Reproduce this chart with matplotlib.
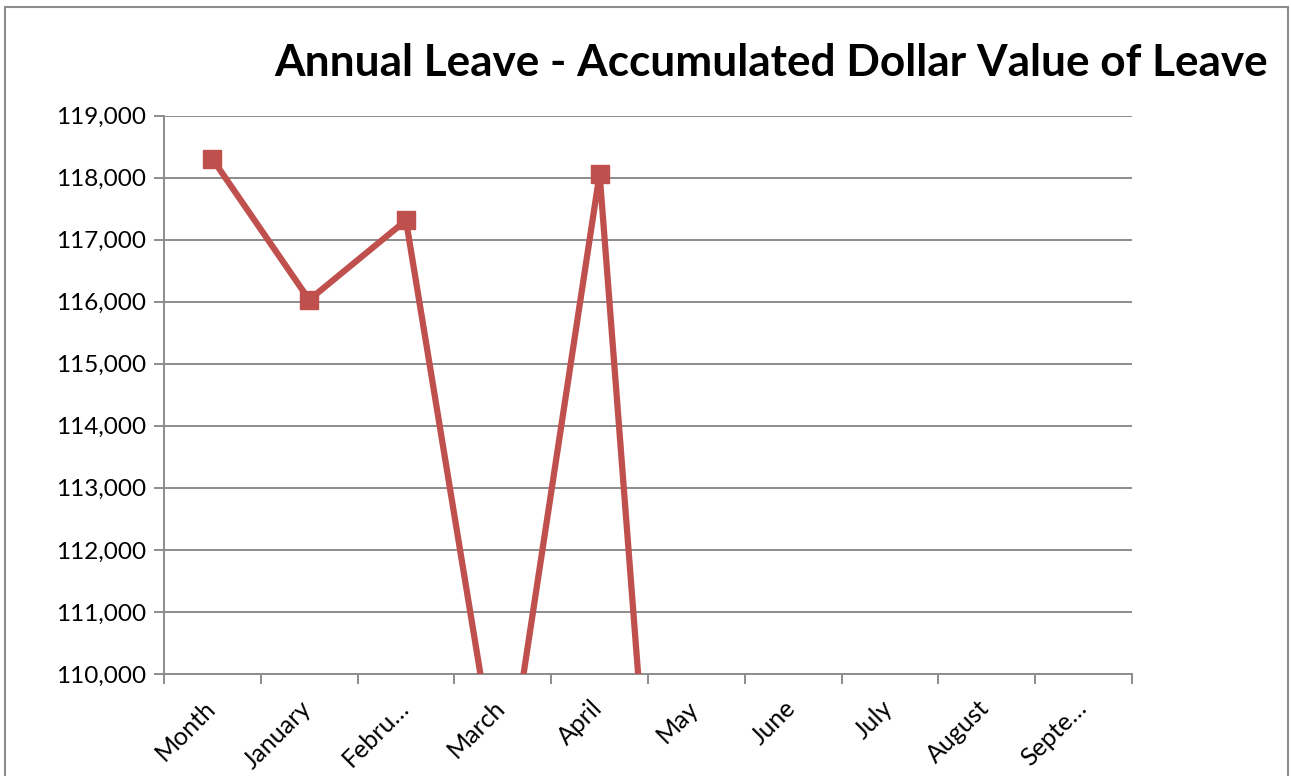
import matplotlib
matplotlib.use("Agg")
import matplotlib.pyplot as plt
from matplotlib.patches import Rectangle
from matplotlib.ticker import FuncFormatter, MultipleLocator
from matplotlib.transforms import ScaledTranslation

plt.rcParams['font.family'] = ['Lato', 'DejaVu Sans']

# Chart data
months = ["Month", "January", "Febru…", "March", "April", "May",
          "June", "July", "August", "Septe…"]
leave_value = [118300, 116030, 117310, 107800, 118060, 97800]

y_min, y_max, y_step = 110000, 119000, 1000

line_color = "#C0504D"
grid_color = "#8C8C8C"

fig = plt.figure(figsize=(12.91, 7.76), dpi=100)
ax = fig.add_axes([164 / 1291, 1 - 674 / 776, (1132 - 164) / 1291, (674 - 115.5) / 776])

x = list(range(len(leave_value)))
ax.plot(x, leave_value, color=line_color, linewidth=4.5, marker="s",
        markersize=13.5, markerfacecolor=line_color, markeredgecolor=line_color,
        solid_joinstyle="miter", zorder=3)

ax.set_xlim(-0.5, len(months) - 0.5)
ax.set_ylim(y_min, y_max)

ax.yaxis.set_major_locator(MultipleLocator(y_step))
ax.yaxis.set_major_formatter(FuncFormatter(lambda v, p: f"{int(v):,}"))
ax.grid(axis="y", color=grid_color, linewidth=1.4, zorder=0)

ax.set_xticks(range(len(months)))
ax.set_xticklabels(months, rotation=45, ha="right", va="top", rotation_mode="default")
ax.set_xticks([i - 0.5 for i in range(len(months) + 1)], minor=True)
ax.tick_params(axis="x", which="major", length=0, pad=16, labelsize=18)
ax.tick_params(axis="x", which="minor", length=7, width=1.4, color=grid_color)
ax.tick_params(axis="y", which="major", length=7, width=1.4, color=grid_color,
               labelsize=17.5, pad=6)

# nudge the slanted month labels so they end just right of each category centre
shift = ScaledTranslation(7 / 100, 0, fig.dpi_scale_trans)
for lbl in ax.get_xticklabels():
    lbl.set_transform(lbl.get_transform() + shift)

for side in ("top", "right"):
    ax.spines[side].set_visible(False)
ax.spines["left"].set_color(grid_color)
ax.spines["left"].set_linewidth(1.4)
ax.spines["bottom"].set_color(grid_color)
ax.spines["bottom"].set_linewidth(1.4)

fig.text(1268 / 1291, 1 - 63 / 776, "Annual Leave - Accumulated Dollar Value of Leave",
         ha="right", va="center", fontsize=31.8, fontweight="bold")

# Chart frame
fig.patches.append(Rectangle((4.5 / 1291, -0.05), (1288 - 4.5) / 1291, 1.05 - 7.5 / 776,
                             transform=fig.transFigure, fill=False,
                             edgecolor="#8C8C8C", linewidth=1.5, clip_on=False))

fig.savefig("out.png", dpi=100)
